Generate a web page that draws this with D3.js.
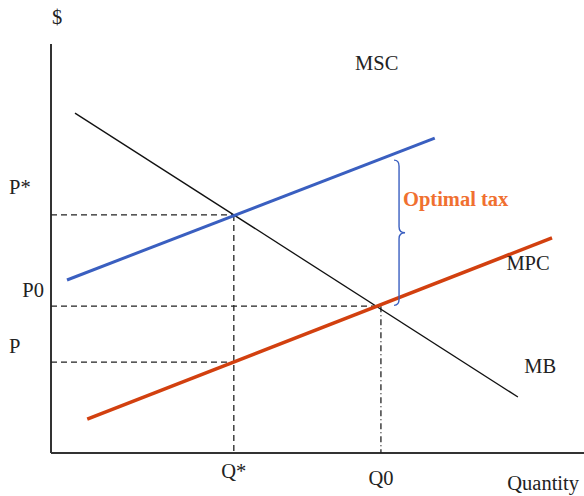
<!DOCTYPE html>
<html><head><meta charset="utf-8">
<script src="https://cdn.jsdelivr.net/npm/d3@7"></script>
<style>body{margin:0;background:#fff}svg{display:block}text{font-family:"Liberation Serif","Times New Roman",serif}</style>
</head><body>
<svg id="c" width="584" height="496"></svg>
<script>
// Curves as [quantity, price] endpoints (arbitrary units)
const mbLine  = [[0.45, 8.31], [8.76, 1.37]];
const mscLine = [[0.30, 4.23], [7.20, 7.70]];
const mpcLine = [[0.68, 0.83], [9.40, 5.26]];
// Equilibria
const qStar = 3.43, pStar = 5.82;
const q0 = 6.19, p0 = 3.59;
const pLow = 2.22;
// Brace (optimal tax) span
const braceQ = 6.53, braceTop = 7.16, braceBottom = 3.61;
// Labels: [text, x-pixel-anchor position in units, price position]
const priceLabels = [["P*", 6.34, "start"], ["P0", 3.82, "end"], ["P", 2.44, "start"]];
const qtyLabels = [["Q*", qStar, -0.50], ["Q0", q0, -0.66]];
const curveLabels = [["MSC", 6.11, 9.37], ["MPC", 8.95, 4.47], ["MB", 9.18, 1.95]];

const svg = d3.select("#c");
const x = d3.scaleLinear().domain([0, 10]).range([51, 584]);
const y = d3.scaleLinear().domain([0, 10]).range([453, 44]);
const line = d3.line().x(d => x(d[0])).y(d => y(d[1]));

// axes
svg.append("line").attr("x1", x(0)).attr("x2", x(0)).attr("y1", y(10)).attr("y2", y(0))
  .attr("stroke", "#333").attr("stroke-width", 2);
svg.append("line").attr("x1", x(0)).attr("x2", x(10)).attr("y1", y(0)).attr("y2", y(0))
  .attr("stroke", "#333").attr("stroke-width", 2);

// dashed guides
const dash = "6,4";
[[pStar, qStar], [p0, q0], [pLow, qStar]].forEach(([p, q]) => {
  svg.append("line").attr("x1", x(0)).attr("x2", x(q)).attr("y1", y(p)).attr("y2", y(p))
    .attr("stroke", "#222").attr("stroke-width", 1.3).attr("stroke-dasharray", dash);
});
svg.append("line").attr("x1", x(qStar)).attr("x2", x(qStar)).attr("y1", y(pStar)).attr("y2", y(0))
  .attr("stroke", "#222").attr("stroke-width", 1.3).attr("stroke-dasharray", dash);
svg.append("line").attr("x1", x(q0)).attr("x2", x(q0)).attr("y1", y(p0)).attr("y2", y(0))
  .attr("stroke", "#222").attr("stroke-width", 1.3).attr("stroke-dasharray", "6,3,1,3");

// curves
svg.append("path").attr("d", line(mbLine)).attr("stroke", "#111").attr("stroke-width", 1.3).attr("fill", "none");
svg.append("path").attr("d", line(mscLine)).attr("stroke", "#3a5fc0").attr("stroke-width", 3).attr("fill", "none");
svg.append("path").attr("d", line(mpcLine)).attr("stroke", "#d2400f").attr("stroke-width", 3.5).attr("fill", "none");

// brace
(function () {
  const bx = x(braceQ), t = y(braceTop), b = y(braceBottom), m = (t + b) / 2;
  const w = 5;
  const p = d3.path();
  p.moveTo(bx - w, t);
  p.quadraticCurveTo(bx, t, bx, t + 6);
  p.lineTo(bx, m - 6);
  p.quadraticCurveTo(bx, m, bx + w + 1, m);
  p.quadraticCurveTo(bx, m, bx, m + 6);
  p.lineTo(bx, b - 6);
  p.quadraticCurveTo(bx, b, bx - w, b);
  svg.append("path").attr("d", p.toString()).attr("stroke", "#3a5fc0").attr("stroke-width", 1.4).attr("fill", "none");
})();

// text
const fs = 20.5;
svg.append("text").attr("x", x(0) + 6).attr("y", 24).attr("text-anchor", "middle").attr("font-size", fs).attr("fill", "#222").text("$");
priceLabels.forEach(([t, v, anchor]) => {
  svg.append("text").attr("x", anchor === "end" ? x(0) - 7 : 9).attr("y", y(v))
    .attr("text-anchor", anchor).attr("font-size", fs).attr("fill", "#222").text(t);
});
qtyLabels.forEach(([t, q, dy]) => {
  svg.append("text").attr("x", x(q)).attr("y", y(dy) + 5).attr("text-anchor", "middle").attr("font-size", fs).attr("fill", "#222").text(t);
});
svg.append("text").attr("x", 579).attr("y", 490).attr("text-anchor", "end").attr("font-size", fs).attr("fill", "#222").text("Quantity");
curveLabels.forEach(([t, q, p]) => {
  svg.append("text").attr("x", x(q)).attr("y", y(p)).attr("text-anchor", "middle").attr("font-size", fs).attr("fill", "#222").text(t);
});
svg.append("text").attr("x", 403).attr("y", 206).attr("font-size", 20.5).attr("font-weight", "bold").attr("fill", "#f07030").text("Optimal tax");
</script>
</body></html>
